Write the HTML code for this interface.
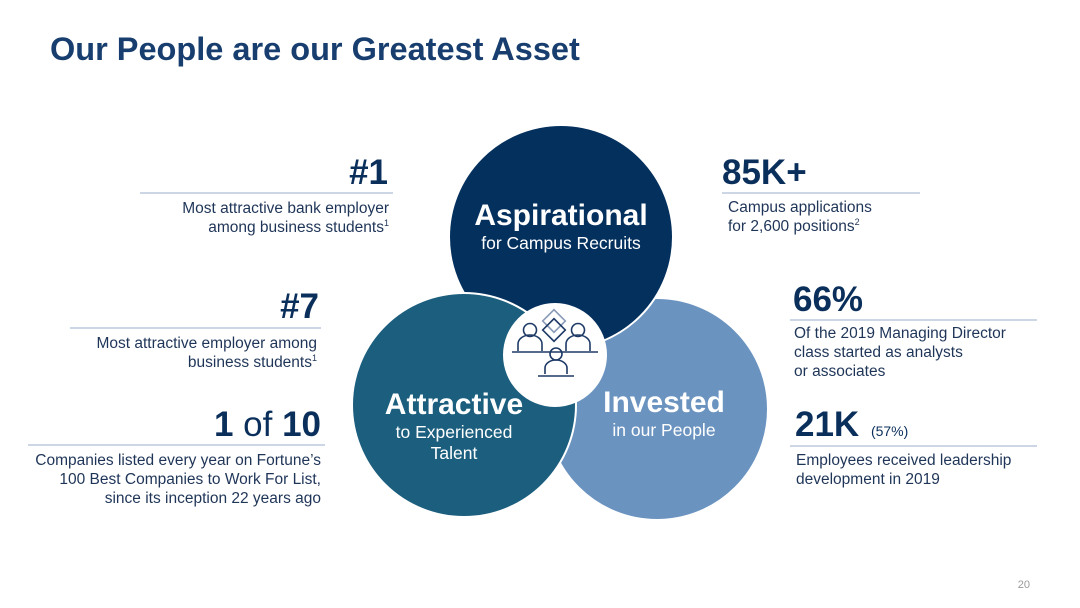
<!DOCTYPE html>
<html><head><meta charset="utf-8"><style>
html,body{margin:0;padding:0;background:#fff;}
svg{display:block;font-family:"Liberation Sans",Arial,sans-serif;}
</style></head><body>
<svg width="1080" height="608" viewBox="0 0 1080 608">
<text x="50" y="60" font-size="32.5" font-weight="bold" fill="#173e6e">Our People are our Greatest Asset</text>

<g>
<circle cx="657" cy="409" r="111" fill="#6b93c0" stroke="#fff" stroke-width="2"/>
<circle cx="561" cy="237" r="112" fill="#04305e" stroke="#fff" stroke-width="2"/>
<circle cx="464" cy="405" r="112" fill="#1b5e7e" stroke="#fff" stroke-width="2"/>
<circle cx="555" cy="355" r="52" fill="#fff"/>
<g fill="none" stroke="#1e3a66" stroke-width="1.6">
<rect x="546" y="313" width="16" height="16" transform="rotate(45 554 321)" stroke="#8a9bb8"/>
<rect x="546" y="322" width="16" height="16" transform="rotate(45 554 330)"/>
<circle cx="530" cy="330" r="6.5"/>
<path d="M518 351 v-7 a12 9 0 0 1 24 0 v7"/>
<circle cx="578" cy="330" r="6.5"/>
<path d="M566 351 v-7 a12 9 0 0 1 24 0 v7"/>
<line x1="512" y1="352" x2="598" y2="352"/>
<circle cx="556" cy="354" r="6"/>
<path d="M545 374 v-6 a11 8 0 0 1 22 0 v6"/>
<line x1="538" y1="376" x2="574" y2="376"/>
</g>
<g fill="#fff" text-anchor="middle">
<text x="561" y="225" font-size="30" font-weight="bold">Aspirational</text>
<text x="561" y="249" font-size="17.5">for Campus Recruits</text>
<text x="454" y="414" font-size="30" font-weight="bold">Attractive</text>
<text x="454" y="438" font-size="17.5">to Experienced</text>
<text x="454" y="459" font-size="17.5">Talent</text>
<text x="664" y="412" font-size="30" font-weight="bold">Invested</text>
<text x="664" y="436" font-size="17.5">in our People</text>
</g>
</g>

<g fill="#0b2f5b">
<g>
<text x="388" y="184" font-size="35" font-weight="bold" text-anchor="end">#1</text>
<line x1="140" y1="193" x2="393" y2="193" stroke="#9aaec8" stroke-width="1"/>
<text x="389" y="213" font-size="15.5" text-anchor="end" fill="#1f3558">Most attractive bank employer</text>
<text x="389" y="232" font-size="15.5" text-anchor="end" fill="#1f3558">among business students<tspan font-size="9" dy="-6">1</tspan></text>
</g>
<g>
<text x="319" y="318" font-size="35" font-weight="bold" text-anchor="end">#7</text>
<line x1="70" y1="328" x2="321" y2="328" stroke="#9aaec8" stroke-width="1"/>
<text x="317" y="348" font-size="15.5" text-anchor="end" fill="#1f3558">Most attractive employer among</text>
<text x="317" y="367" font-size="15.5" text-anchor="end" fill="#1f3558">business students<tspan font-size="9" dy="-6">1</tspan></text>
</g>
<g>
<text x="321" y="436" font-size="35" text-anchor="end"><tspan font-weight="bold">1</tspan> of <tspan font-weight="bold">10</tspan></text>
<line x1="28" y1="445" x2="325" y2="445" stroke="#9aaec8" stroke-width="1"/>
<text x="321" y="465" font-size="15.5" text-anchor="end" fill="#1f3558">Companies listed every year on Fortune’s</text>
<text x="321" y="484" font-size="15.5" text-anchor="end" fill="#1f3558">100 Best Companies to Work For List,</text>
<text x="321" y="503" font-size="15.5" text-anchor="end" fill="#1f3558">since its inception 22 years ago</text>
</g>
<g>
<text x="722" y="184" font-size="35" font-weight="bold">85K+</text>
<line x1="722" y1="193" x2="920" y2="193" stroke="#9aaec8" stroke-width="1"/>
<text x="728" y="212" font-size="15.5" fill="#1f3558">Campus applications</text>
<text x="728" y="231" font-size="15.5" fill="#1f3558">for 2,600 positions<tspan font-size="9" dy="-6">2</tspan></text>
</g>
<g>
<text x="793" y="311" font-size="35" font-weight="bold">66%</text>
<line x1="790" y1="320" x2="1037" y2="320" stroke="#9aaec8" stroke-width="1"/>
<text x="794" y="338" font-size="15.5" fill="#1f3558">Of the 2019 Managing Director</text>
<text x="794" y="357" font-size="15.5" fill="#1f3558">class started as analysts</text>
<text x="794" y="376" font-size="15.5" fill="#1f3558">or associates</text>
</g>
<g>
<text x="795" y="436" font-size="35" font-weight="bold">21K <tspan font-size="14" font-weight="normal" dx="2">(57%)</tspan></text>
<line x1="790" y1="446" x2="1037" y2="446" stroke="#9aaec8" stroke-width="1"/>
<text x="796" y="465" font-size="15.5" fill="#1f3558">Employees received leadership</text>
<text x="796" y="484" font-size="15.5" fill="#1f3558">development in 2019</text>
</g>
</g>
<text x="1030" y="588" font-size="11" fill="#999" text-anchor="end">20</text>
</svg>
</body></html>
